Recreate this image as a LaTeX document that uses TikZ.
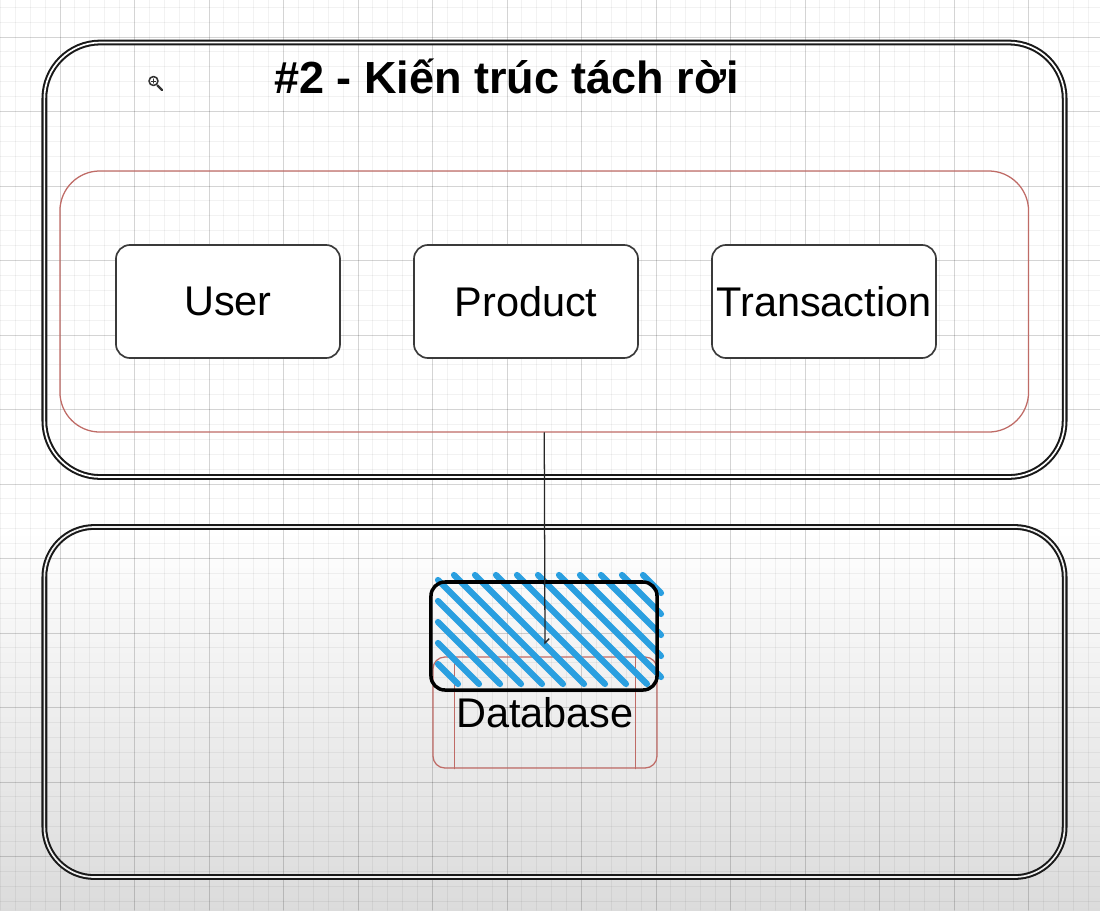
\documentclass[tikz,border=0pt]{standalone}
\usepackage{fontspec}
\setmainfont{Liberation Sans}
\usetikzlibrary{positioning, arrows.meta, shapes}
\definecolor{db_red}{HTML}{BF6B66}
\definecolor{hatch_blue}{HTML}{2A9FE0}
\definecolor{box_gray}{HTML}{3A3A3A}
\tikzset{
	grid_minor/.style={black, opacity=0.05, line width=0.7pt},
	grid_major/.style={black, opacity=0.12, line width=0.7pt},
	panel/.style={draw=black!90, double=white, double distance=1.2pt, line width=1.45pt, rounded corners=#1, inner sep=0pt},
	group/.style={draw=db_red, line width=0.9pt, rounded corners=1cm, inner sep=0pt},
	svc/.style={draw=box_gray, fill=white, line width=1.2pt, rounded corners=0.35cm, minimum width=5.6cm, minimum height=2.825cm, inner sep=0pt, font=\fontsize{29.5}{35}\selectfont},
	dbshape/.style={draw=db_red, line width=0.9pt, rounded corners=0.3cm, minimum width=5.6cm, minimum height=2.775cm, inner sep=0pt, font=\fontsize{29.5}{35}\selectfont},
	selbox/.style={draw=black, line width=2.5pt, rounded corners=0.35cm, minimum width=5.65cm, minimum height=2.7cm, inner sep=0pt},
	hatch/.style={hatch_blue, line width=4.4pt, line cap=round},
	link/.style={draw=black!85, line width=0.9pt},
	title/.style={font=\fontsize{32}{38}\selectfont\bfseries, inner sep=0pt}
}

\begin{document}
\begin{tikzpicture}[x=0.025cm,y=-0.025cm,line join=round,line cap=round]
	\useasboundingbox (0,0) rectangle (1100,910);
	\fill[white] (0,0) rectangle (1100,530);
	\shade[top color=white,bottom color=black!14] (0,530) rectangle (1100,910);
	\foreach\i in {0,...,73}
	{
		\pgfmathsetmacro\j{0.4+14.9*\i}
		\draw[grid_minor] (\j,0) -- (\j,910);
	}
	\foreach\i in {0,...,61}
	{
		\pgfmathsetmacro\j{7.2+14.9*\i}
		\draw[grid_minor] (0,\j) -- (1100,\j);
	}
	\foreach\i in {0,...,13}
	{
		\pgfmathsetmacro\j{60+74.5*\i}
		\draw[grid_major] (\j,0) -- (\j,910);
		\ifnum\i<12
			\pgfmathsetmacro\k{37+74.5*\i}
			\draw[grid_major] (0,\k) -- (1100,\k);
		\fi
	}

	\node[panel=1.4cm, minimum width=25.5cm, minimum height=10.86cm] (app) at (554.5,259.75) {};
	\node[panel=1.25cm, double=black!6, minimum width=25.5cm, minimum height=8.75cm] (storage) at (554.5,702) {};
	\node[title, anchor=base] (title) at (506.5,93) {\#2 - Kiến trúc tách rời};

	\draw[black!80, line width=1.1pt] (153.5,81) circle (3.2pt);
	\draw[black!80, line width=0.7pt] (151.3,81) -- (155.7,81) (153.5,78.8) -- (153.5,83.2);
	\draw[black!80, line width=1.7pt] (157.5,85.5) -- (162,90);

	\node[group, minimum width=24.21cm, minimum height=6.525cm] (services) at (544.25,301.5) {};
	\foreach\name/\x in {User/228,Product/526,Transaction/824}
		\node[svc] (\name) at (\x,301.5) {\name};

	\node[dbshape] (db) at (545,712.5) {Database};
	\draw[db_red, line width=0.9pt] ([xshift=0.55cm]db.north west) -- ([xshift=0.55cm]db.south west);
	\draw[db_red, line width=0.9pt] ([xshift=-0.55cm]db.north east) -- ([xshift=-0.55cm]db.south east);

	\foreach\d in {-247,-226,...,84}
	{
		\pgfmathsetmacro\ys{max(575,438-\d)}
		\pgfmathsetmacro\ye{min(684,661-\d)}
		\ifdim\ys pt<\ye pt
			\draw[hatch] ({\ys+\d},\ys) -- ({\ye+\d},\ye);
		\fi
	}
	\node[selbox] (sel) at (544,636) {};

	\draw[link, -{Straight Barb[harpoon, length=3pt, width=6pt]}] (services.south) -- ([yshift=8.5pt]db.north);
\end{tikzpicture}
\end{document}
